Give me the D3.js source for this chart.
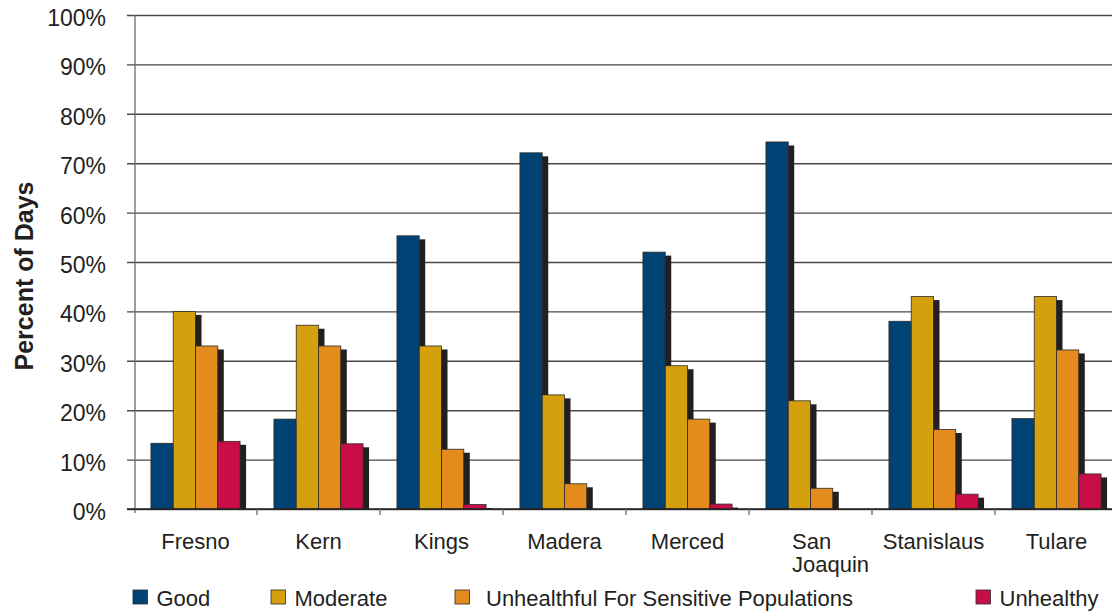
<!DOCTYPE html>
<html>
<head>
<meta charset="utf-8">
<script src="https://cdn.jsdelivr.net/npm/d3@7/dist/d3.min.js"></script>
<style>
  html, body { margin: 0; padding: 0; background: #fff; }
  svg { display: block; font-family: "Liberation Sans", Arial, sans-serif; }
</style>
</head>
<body>
<svg id="chart" width="1112" height="611"></svg>
<script>
// Counties in the San Joaquin Valley
const counties = ["Fresno", "Kern", "Kings", "Madera", "Merced", "San Joaquin", "Stanislaus", "Tulare"];
// Air quality categories
const categories = ["Good", "Moderate", "Unhealthful For Sensitive Populations", "Unhealthy"];
// Percent of days per category, one array per county order above
const good        = [13.3, 18.2, 55.3, 72.1, 52.0, 74.3, 38.0, 18.3];
const moderate    = [40.0, 37.2, 33.0, 23.1, 29.0, 21.9, 43.0, 43.0];
const unhealthful = [33.0, 33.0, 12.1,  5.1, 18.2,  4.2, 16.1, 32.2];
const unhealthy   = [13.7, 13.2,  0.9,  0.0,  1.0,  0.0,  3.0,  7.1];
const yTicks = [0, 10, 20, 30, 40, 50, 60, 70, 80, 90, 100];
const colors = ["#004274", "#D4A00D", "#E38B1C", "#C90E47"];

const seriesValues = [good, moderate, unhealthful, unhealthy];
const rows = counties.map((c, i) => ({
  county: c,
  values: categories.map((k, j) => ({ key: k, idx: j, value: seriesValues[j][i] }))
}));

const svg = d3.select("#chart");
const plotLeft = 134, plotRight = 1118, plotTop = 15, plotBottom = 509;
const axisX = 135;

const x0 = d3.scaleBand().domain(counties).range([plotLeft, plotRight]);
const x1 = d3.scaleBand().domain(categories).range([0, x0.bandwidth()]).paddingOuter(0.76);
const y = d3.scaleLinear().domain([0, 100]).range([plotBottom, plotTop]);

// Horizontal gridlines with short ticks left of the axis
const grid = svg.append("g")
  .attr("transform", `translate(${axisX},0)`)
  .call(d3.axisLeft(y).tickValues(yTicks).tickSize(-(plotRight - axisX)).tickFormat(""));
grid.select(".domain").remove();
grid.selectAll(".tick line").attr("stroke", "#4a4a4a").attr("stroke-width", 1.4).attr("x1", -8);

// Y tick labels
svg.append("g").selectAll("text").data(yTicks).join("text")
  .attr("x", 106).attr("y", d => y(d) + 11)
  .attr("text-anchor", "end")
  .attr("font-size", 23).attr("fill", "#231f20")
  .text(d => d + "%");

// Y axis line
svg.append("line").attr("x1", axisX).attr("x2", axisX).attr("y1", plotTop).attr("y2", plotBottom + 4)
  .attr("stroke", "#6a6a6a").attr("stroke-width", 1.3);

// Y axis title
svg.append("text")
  .attr("transform", `translate(33,276) rotate(-90)`)
  .attr("text-anchor", "middle").attr("font-weight", "bold")
  .attr("font-size", 25).attr("fill", "#231f20")
  .text("Percent of Days");

// Bars with drop shadows
const groups = svg.append("g").selectAll("g").data(rows).join("g")
  .attr("transform", d => `translate(${x0(d.county)},0)`);

groups.each(function (d) {
  const g = d3.select(this);
  d.values.forEach(v => {
    if (v.value <= 0) return;
    const bx = x1(v.key), bw = x1.bandwidth(), by = y(v.value), bh = plotBottom - y(v.value);
    g.append("rect")
      .attr("x", bx + 6).attr("y", Math.min(by + 3.5, plotBottom))
      .attr("width", bw).attr("height", Math.max(0, bh - 3.5))
      .attr("fill", "#231f20");
    g.append("rect")
      .attr("x", bx).attr("y", by)
      .attr("width", bw).attr("height", bh)
      .attr("fill", colors[v.idx])
      .attr("stroke", "#2b2b2b").attr("stroke-width", 0.8);
  });
});

// X axis line with category separators
const xAxis = svg.append("g").attr("transform", `translate(0,${plotBottom})`);
xAxis.append("line").attr("x1", axisX - 8).attr("x2", plotRight).attr("y1", 0).attr("y2", 0)
  .attr("stroke", "#231f20").attr("stroke-width", 1.4);
xAxis.selectAll("line.sep").data(counties.slice(1)).join("line").attr("class", "sep")
  .attr("x1", d => x0(d)).attr("x2", d => x0(d)).attr("y1", 0).attr("y2", 6)
  .attr("stroke", "#6a6a6a").attr("stroke-width", 1.3);

// Category labels (two-line label is left-aligned as a block)
const catLabels = svg.append("g").selectAll("text").data(counties).join("text")
  .attr("y", 549)
  .attr("font-size", 22).attr("fill", "#231f20");
catLabels.each(function (d) {
  const parts = d.split(" ");
  const t = d3.select(this);
  if (parts.length > 1) {
    const lx = x0(d) + 43;
    t.attr("text-anchor", "start");
    t.selectAll("tspan").data(parts).join("tspan")
      .attr("x", lx)
      .attr("dy", (p, i) => i === 0 ? 0 : 23)
      .text(p => p);
  } else {
    t.attr("text-anchor", "middle").attr("x", x0(d) + x0.bandwidth() / 2).text(d);
  }
});

// Legend
const legendX = [133, 271, 455, 976];
const legend = svg.append("g").selectAll("g").data(categories).join("g")
  .attr("transform", (d, i) => `translate(${legendX[i]},590)`);
legend.append("rect").attr("width", 14.5).attr("height", 14)
  .attr("fill", (d, i) => colors[i]).attr("stroke", "#2b2b2b").attr("stroke-width", 0.8);
legend.append("text")
  .attr("x", (d, i) => i === 2 ? 31 : 23.5).attr("y", 15.5)
  .attr("font-size", 22).attr("fill", "#231f20")
  .text(d => d);
</script>
</body>
</html>
